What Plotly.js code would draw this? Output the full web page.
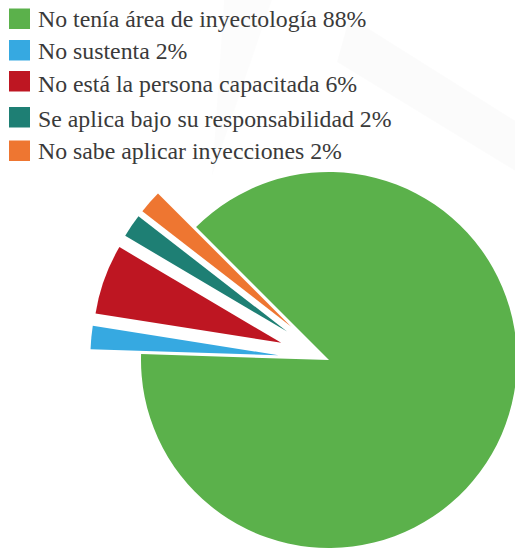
<!DOCTYPE html>
<html>
<head>
<meta charset="utf-8">
<script src="https://cdn.plot.ly/plotly-3.0.1.min.js"></script>
<style>
html,body{margin:0;padding:0;background:#fff;overflow:hidden}
#wrap{width:515px;height:550px;overflow:hidden;position:relative}
#chart{width:570px;height:600px}
</style>
</head>
<body>
<div id="wrap"><div id="chart"></div></div>
<script>
// ---- data ----
const labels = [
  "No tenía área de inyectología",
  "No sustenta",
  "No está la persona capacitada",
  "Se aplica bajo su responsabilidad",
  "No sabe aplicar inyecciones"
];
const values = [88, 2, 6, 2, 2];
const colors = ["#5BB14B", "#36A9E1", "#BE1622", "#1E7F74", "#EE7631"];
const pulls = [0, 0.27, 0.27, 0.27, 0.27];

// ---- layout constants (pixels) ----
const W = 570, H = 600;
const cx = 329, cy = 360, r = 188;
const maxPull = Math.max(...pulls);
const half = r * (1 + maxPull);
const px = x => x / W;
const py = y => 1 - y / H;

const swatchTop = [8.5, 40, 71, 107, 140.5];
const swatchH = 20.5;
const textMid = [19.5, 51.5, 84, 118.5, 150.5];

const shapes = [];
const annotations = [];

// faint background rays
shapes.push({type: 'path', xref: 'paper', yref: 'paper', layer: 'below',
  path: `M ${px(348)} ${py(22)} L ${px(366)} ${py(27)} L ${px(530)} ${py(130)} L ${px(530)} ${py(180)} L ${px(337)} ${py(62)} Z`,
  fillcolor: 'rgba(0,0,0,0.016)', line: {width: 0}});
shapes.push({type: 'path', xref: 'paper', yref: 'paper', layer: 'below',
  path: `M ${px(224)} ${py(0)} L ${px(272)} ${py(0)} L ${px(212)} ${py(176)} Z`,
  fillcolor: 'rgba(0,0,0,0.012)', line: {width: 0}});

labels.forEach((lab, i) => {
  shapes.push({type: 'rect', xref: 'paper', yref: 'paper',
    x0: px(9), x1: px(30), y0: py(swatchTop[i] + swatchH), y1: py(swatchTop[i]),
    fillcolor: colors[i], line: {width: 0}});
  annotations.push({xref: 'paper', yref: 'paper', x: px(35.5), y: py(textMid[i]),
    xanchor: 'left', yanchor: 'middle', showarrow: false,
    text: lab + ' ' + values[i] + '%',
    font: {family: 'Liberation Serif', size: 23.8, color: '#3a3a3a'}});
});

const trace = {
  type: 'pie',
  labels: labels,
  values: values,
  marker: {colors: colors, line: {width: 0}},
  pull: pulls,
  sort: false,
  direction: 'clockwise',
  rotation: -45,
  textinfo: 'none',
  hoverinfo: 'label+percent',
  showlegend: false,
  domain: {
    x: [px(cx - half), px(cx + half)],
    y: [py(cy + half), py(cy - half)]
  }
};

const layout = {
  width: W, height: H,
  margin: {l: 0, r: 0, t: 0, b: 0},
  paper_bgcolor: '#ffffff',
  showlegend: false,
  shapes: shapes,
  annotations: annotations
};

Plotly.newPlot('chart', [trace], layout, {displayModeBar: false, staticPlot: true});
</script>
</body>
</html>
